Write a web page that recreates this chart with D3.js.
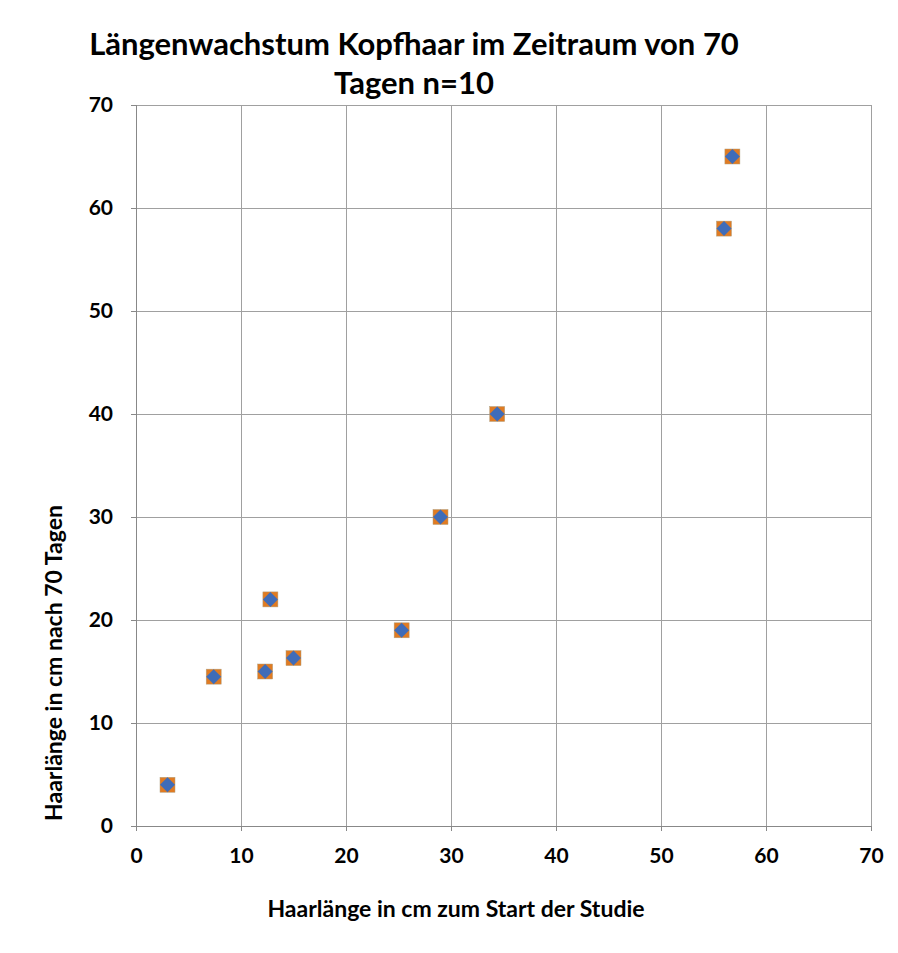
<!DOCTYPE html>
<html><head><meta charset="utf-8">
<script src="https://cdn.jsdelivr.net/npm/d3@7"></script>
<style>body{margin:0;background:#fff}svg text{font-family:Lato,"Open Sans",sans-serif;font-weight:bold;fill:#000}</style>
</head><body><svg id="c" width="898" height="953"></svg>
<script>
const startLen = [3, 7.4, 12.3, 12.8, 15, 25.3, 29, 34.4, 56, 56.8];
const afterLen = [4, 14.5, 15, 22, 16.3, 19, 30, 40, 58, 65];
const xTicks = [0, 10, 20, 30, 40, 50, 60, 70];
const yTicks = [0, 10, 20, 30, 40, 50, 60, 70];
const titleLines = ["Längenwachstum Kopfhaar im Zeitraum von 70", "Tagen n=10"];
const xTitle = "Haarlänge in cm zum Start der Studie";
const yTitle = "Haarlänge in cm nach 70 Tagen";

const svg = d3.select("#c");
const L = 136, R = 871, T = 105, B = 826;
const x = d3.scaleLinear().domain([0, 70]).range([L, R]);
const y = d3.scaleLinear().domain([0, 70]).range([B, T]);

// gridlines
svg.append("g").selectAll("line").data(yTicks).join("line")
  .attr("x1", L).attr("x2", R).attr("y1", d => y(d)).attr("y2", d => y(d))
  .attr("stroke", "#a0a0a0").attr("stroke-width", 1).attr("shape-rendering", "crispEdges");
svg.append("g").selectAll("line").data(xTicks).join("line")
  .attr("y1", T).attr("y2", B).attr("x1", d => x(d)).attr("x2", d => x(d))
  .attr("stroke", "#a0a0a0").attr("stroke-width", 1).attr("shape-rendering", "crispEdges");

const xa = svg.append("g").attr("transform", `translate(0,${B})`)
  .call(d3.axisBottom(x).tickValues(xTicks).tickSize(5).tickPadding(17));
const ya = svg.append("g").attr("transform", `translate(${L},0)`)
  .call(d3.axisLeft(y).tickValues(yTicks).tickSize(5).tickPadding(18));
[xa, ya].forEach(a => {
  a.select(".domain").attr("stroke", "#888").attr("shape-rendering", "crispEdges");
  a.selectAll(".tick line").attr("stroke", "#888").attr("shape-rendering", "crispEdges");
  a.selectAll("text").style("font-size", "21px").style("font-family", "Lato, 'Open Sans', sans-serif").style("font-weight", "bold").attr("fill", "#000");
});

// markers
const pts = startLen.map((v, i) => [v, afterLen[i]]);
const g = svg.append("g");
g.selectAll("rect").data(pts).join("rect")
  .attr("x", d => x(d[0]) - 7.5).attr("y", d => y(d[1]) - 7.5)
  .attr("width", 15).attr("height", 15).attr("fill", "#e07b22").attr("stroke", "#b0a080").attr("stroke-width", 0.5);
g.selectAll("path").data(pts).join("path")
  .attr("transform", d => `translate(${x(d[0])},${y(d[1])})`)
  .attr("d", "M0,-7.5L7.5,0L0,7.5L-7.5,0Z").attr("fill", "#3f6cb8");

// titles
svg.append("g").selectAll("text").data(titleLines).join("text")
  .attr("x", 414).attr("y", (d, i) => 55 + i * 39)
  .attr("text-anchor", "middle").style("font-size", "31px").text(d => d);
svg.append("text").attr("x", 456).attr("y", 917).attr("text-anchor", "middle")
  .style("font-size", "23px").text(xTitle);
svg.append("text").attr("transform", `translate(62,663) rotate(-90)`)
  .attr("text-anchor", "middle").style("font-size", "23px").text(yTitle);
</script></body></html>
